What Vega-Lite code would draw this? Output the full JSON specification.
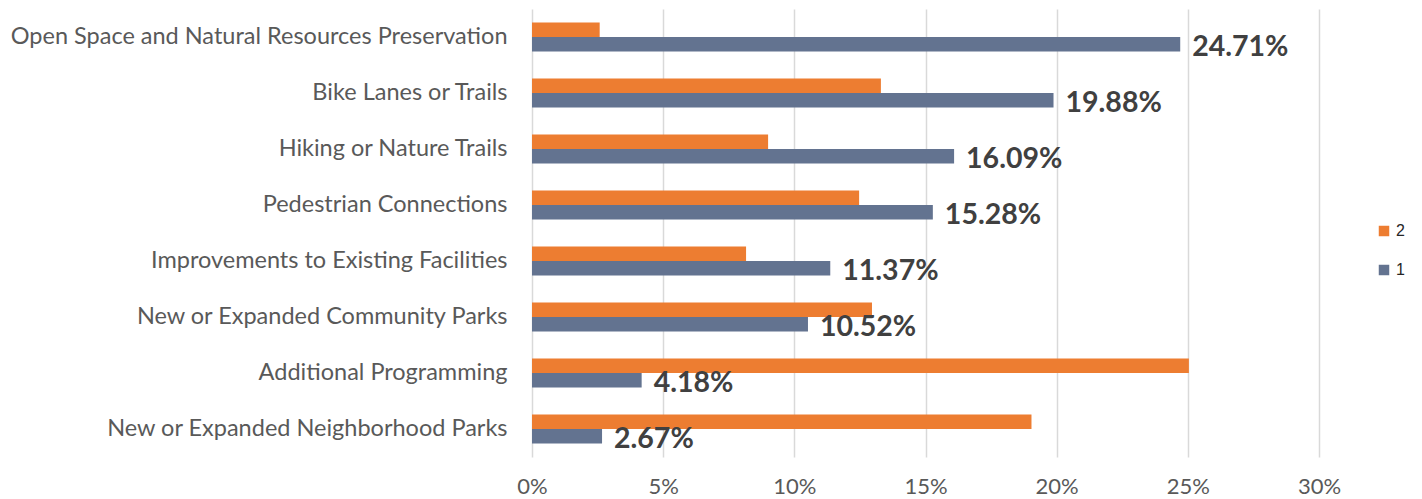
{
  "$schema": "https://vega.github.io/schema/vega-lite/v6.json",
  "width": 787,
  "height": 448,
  "autosize": "none",
  "padding": {"left": 532, "top": 9, "right": 103, "bottom": 42},
  "background": "white",
  "config": {
    "view": {"stroke": null},
    "font": "Lato"
  },
  "data": {
    "values": [
      {"category": "Open Space and Natural Resources Preservation", "series": "1", "value": 24.71},
      {"category": "Open Space and Natural Resources Preservation", "series": "2", "value": 2.58},
      {"category": "Bike Lanes or Trails", "series": "1", "value": 19.88},
      {"category": "Bike Lanes or Trails", "series": "2", "value": 13.3},
      {"category": "Hiking or Nature Trails", "series": "1", "value": 16.09},
      {"category": "Hiking or Nature Trails", "series": "2", "value": 9.0},
      {"category": "Pedestrian Connections", "series": "1", "value": 15.28},
      {"category": "Pedestrian Connections", "series": "2", "value": 12.47},
      {"category": "Improvements to Existing Facilities", "series": "1", "value": 11.37},
      {"category": "Improvements to Existing Facilities", "series": "2", "value": 8.16},
      {"category": "New or Expanded Community Parks", "series": "1", "value": 10.52},
      {"category": "New or Expanded Community Parks", "series": "2", "value": 12.96},
      {"category": "Additional Programming", "series": "1", "value": 4.18},
      {"category": "Additional Programming", "series": "2", "value": 25.04},
      {"category": "New or Expanded Neighborhood Parks", "series": "1", "value": 2.67},
      {"category": "New or Expanded Neighborhood Parks", "series": "2", "value": 19.04}
    ]
  },
  "encoding": {
    "y": {
      "field": "category",
      "type": "nominal",
      "sort": null,
      "scale": {"paddingInner": 0.48, "paddingOuter": 0.24},
      "axis": {
        "title": null,
        "domain": false,
        "ticks": false,
        "labelPadding": 25,
        "labelFontSize": 23.5,
        "labelColor": "#595959",
        "labelLimit": 600
      }
    },
    "yOffset": {"field": "series", "type": "nominal", "sort": ["2", "1"]},
    "x": {
      "field": "value",
      "type": "quantitative",
      "scale": {"domain": [0, 30], "nice": false},
      "axis": {
        "title": null,
        "domain": false,
        "ticks": false,
        "values": [0, 5, 10, 15, 20, 25, 30],
        "labelExpr": "datum.value + '%'",
        "labelFlush": false,
        "labelPadding": 19,
        "labelFontSize": 22,
        "labelColor": "#595959",
        "gridColor": "#D9D9D9",
        "gridWidth": 1.5
      }
    }
  },
  "layer": [
    {
      "mark": {"type": "bar"},
      "encoding": {
        "color": {
          "field": "series",
          "type": "nominal",
          "scale": {"domain": ["2", "1"], "range": ["#ED7D31", "#637390"]},
          "legend": {
            "title": null,
            "orient": "none",
            "legendX": 844,
            "legendY": 214,
            "symbolType": "square",
            "symbolSize": 110,
            "symbolStrokeWidth": 0,
            "labelFontSize": 16,
            "labelColor": "#262626",
            "labelFont": "Liberation Sans",
            "rowPadding": 23
          }
        }
      }
    },
    {
      "transform": [
        {"filter": "datum.series == '1'"},
        {"calculate": "format(datum.value, '.2f') + '%'", "as": "label"}
      ],
      "mark": {
        "type": "text",
        "align": "left",
        "baseline": "middle",
        "dx": 12,
        "dy": 3,
        "fontSize": 28.5,
        "fontWeight": "bold",
        "color": "#404040"
      },
      "encoding": {
        "text": {"field": "label", "type": "nominal"}
      }
    }
  ]
}
